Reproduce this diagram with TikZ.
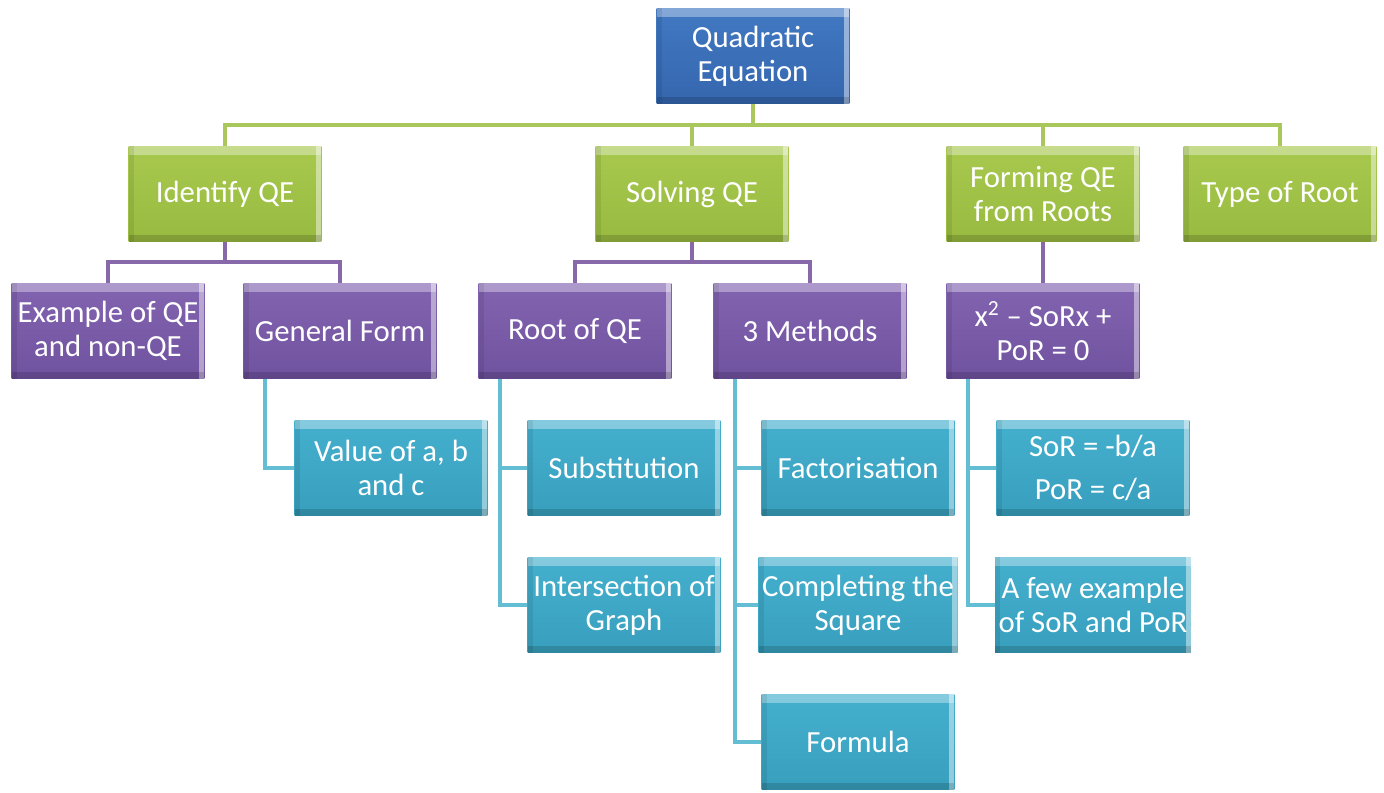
\documentclass[tikz,border=0pt]{standalone}
\usepackage{fontspec}
\setmainfont{Carlito}
\definecolor{qeblue}{HTML}{3566AE}
\definecolor{qebluetop}{HTML}{4179C2}
\definecolor{qegreen}{HTML}{98BA40}
\definecolor{qegreentop}{HTML}{A8C94E}
\definecolor{qepurple}{HTML}{7053A0}
\definecolor{qepurpletop}{HTML}{8263B0}
\definecolor{qecyan}{HTML}{389FBD}
\definecolor{qecyantop}{HTML}{44B0CE}
\definecolor{greenlink}{HTML}{A9C75D}
\definecolor{purplelink}{HTML}{8768A8}
\definecolor{cyanlink}{HTML}{63BDD3}
\tikzset{
  box/.style={rectangle,minimum width=3.86cm,minimum height=1.92cm,inner sep=2pt,
    align=center,text=white,font=\fontsize{17.5}{19.5}\selectfont,
    path picture={
      \fill[white,opacity=.35] (path picture bounding box.north west) rectangle
        ([yshift=-5pt]path picture bounding box.north east);
      \fill[white,opacity=.45] ([xshift=-3pt]path picture bounding box.north east) rectangle
        (path picture bounding box.south east);
      \fill[black,opacity=.15] (path picture bounding box.south west) rectangle
        ([yshift=4pt]path picture bounding box.south east);
      \fill[black,opacity=.08] (path picture bounding box.south west) rectangle
        ([xshift=3pt]path picture bounding box.north west);
    }},
  bluebox/.style={box,top color=qebluetop,bottom color=qeblue},
  greenbox/.style={box,top color=qegreentop,bottom color=qegreen},
  purplebox/.style={box,top color=qepurpletop,bottom color=qepurple},
  cyanbox/.style={box,top color=qecyantop,bottom color=qecyan},
  greenline/.style={draw=greenlink,line width=2.3pt},
  purpleline/.style={draw=purplelink,line width=2.3pt},
  cyanline/.style={draw=cyanlink,line width=2.3pt}
}
\begin{document}
\begin{tikzpicture}[x=0.02cm,y=-0.02cm]
 \useasboundingbox (0,0) rectangle (1384,793);
 % top
 \node[bluebox] (qe) at (753,56) {Quadratic\\Equation};
 % first level
 \node[greenbox] (id) at (225,194) {Identify QE};
 \node[greenbox] (sol) at (692,194) {Solving QE};
 \node[greenbox] (form) at (1043,194) {Forming QE\\from Roots};
 \node[greenbox] (type) at (1280,194) {Type of Root};
 % second level
 \node[purplebox] (ex) at (108,331) {Example of QE\\and non-QE};
 \node[purplebox] (gen) at (340,331) {General Form};
 \node[purplebox] (root) at (575,331) {Root of QE};
 \node[purplebox] (meth) at (810,331) {3 Methods};
 \node[purplebox] (eqn) at (1043,331) {x\textsuperscript{2} – SoRx +\\PoR = 0};
 % third level
 \node[cyanbox] (val) at (391,468) {Value of a, b\\and c};
 \node[cyanbox] (sub) at (624,468) {Substitution};
 \node[cyanbox] (inter) at (624,605) {Intersection of\\Graph};
 \node[cyanbox] (fact) at (858,468) {Factorisation};
 \node[cyanbox] (comp) at (858,605) {Completing the\\Square};
 \node[cyanbox] (formula) at (858,742) {Formula};
 \node[cyanbox] (sor) at (1093,468) {SoR = -b/a\\[5pt]PoR = c/a};
 \node[cyanbox] (few) at (1093,605) {A few example\\of SoR and PoR};

 \foreach \from/\to in {qe/id,qe/sol,qe/form,qe/type}
  \draw[greenline] (\from.south) -- ++(0,21) -| (\to.north);
 \foreach \from/\to in {id/ex,id/gen,sol/root,sol/meth,form/eqn}
  \draw[purpleline] (\from.south) -- ++(0,20) -| (\to.north);
 \foreach \from/\to in {gen/val,root/sub,root/inter,meth/fact,meth/comp,meth/formula,eqn/sor,eqn/few}
  \draw[cyanline] (\from.south west) ++(22,0) |- (\to.west);
\end{tikzpicture}
\end{document}
